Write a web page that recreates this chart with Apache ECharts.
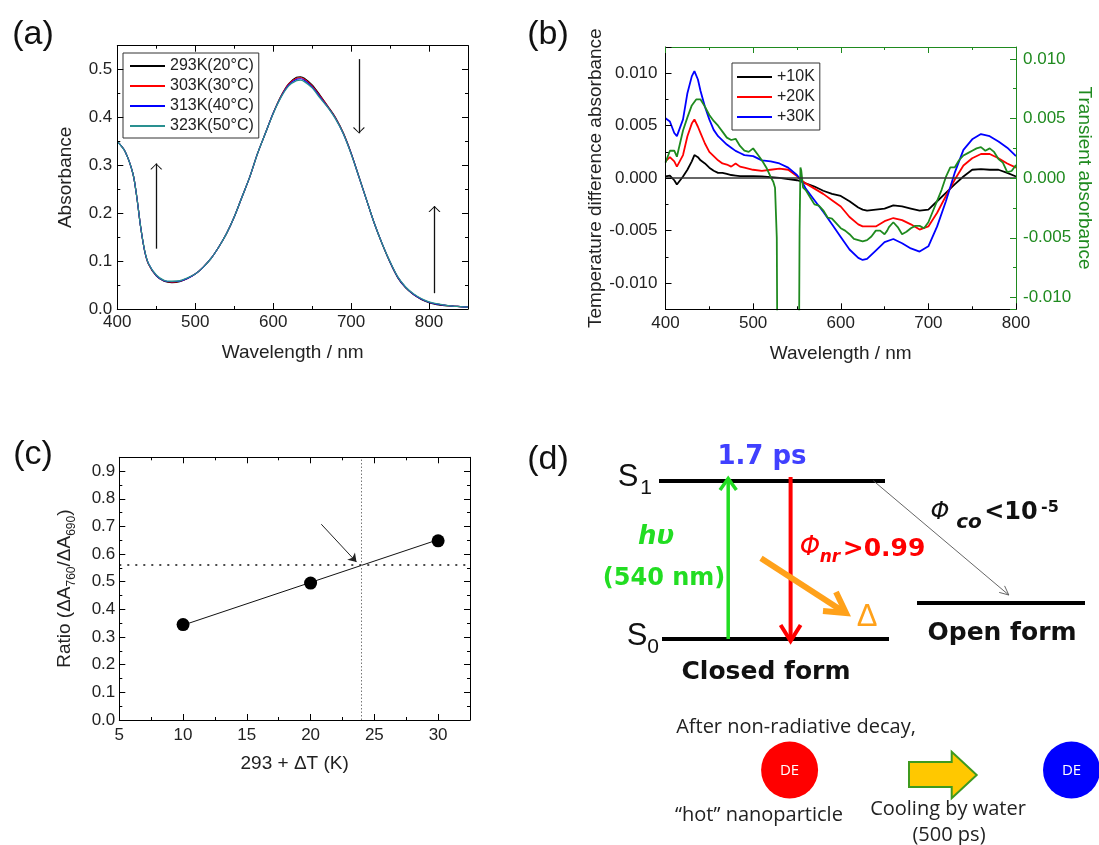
<!DOCTYPE html>
<html>
<head>
<meta charset="utf-8">
<script src="https://cdn.jsdelivr.net/npm/echarts@6/dist/echarts.min.js"></script>
<style>
  html, body { margin: 0; padding: 0; background: #fff; }
  #main { width: 1099px; height: 845px; }
</style>
</head>
<body>
<div id="main"></div>
<script>
// ---- (a) absorbance spectra at 4 temperatures
const wlA = [400,410,420,425,430,435,440,450,460,470,480,490,500,510,520,530,540,550,560,570,580,590,600,610,620,630,635,640,650,660,670,680,690,700,710,720,730,740,750,760,770,780,790,800,810,820,830,840,850];
const abs293 = [0.350,0.329,0.283,0.234,0.171,0.122,0.094,0.069,0.058,0.055,0.057,0.064,0.073,0.087,0.105,0.129,0.157,0.192,0.234,0.276,0.325,0.367,0.409,0.445,0.471,0.484,0.485,0.482,0.468,0.447,0.424,0.400,0.368,0.326,0.277,0.227,0.178,0.135,0.097,0.065,0.044,0.030,0.020,0.013,0.009,0.007,0.006,0.005,0.004];
const abs303 = [0.350,0.329,0.283,0.234,0.171,0.122,0.094,0.070,0.059,0.056,0.058,0.064,0.073,0.087,0.105,0.129,0.157,0.192,0.234,0.276,0.325,0.367,0.409,0.444,0.470,0.482,0.483,0.480,0.466,0.445,0.423,0.399,0.367,0.325,0.276,0.227,0.178,0.136,0.098,0.066,0.045,0.031,0.021,0.014,0.010,0.008,0.006,0.005,0.004];
const abs313 = [0.350,0.329,0.283,0.234,0.171,0.122,0.095,0.070,0.059,0.057,0.058,0.064,0.073,0.087,0.105,0.129,0.157,0.192,0.234,0.276,0.325,0.367,0.409,0.443,0.468,0.480,0.481,0.478,0.464,0.443,0.422,0.398,0.366,0.325,0.276,0.227,0.178,0.136,0.098,0.066,0.045,0.031,0.021,0.014,0.010,0.008,0.006,0.005,0.004];
const abs323 = [0.350,0.329,0.283,0.234,0.171,0.123,0.095,0.071,0.060,0.058,0.059,0.065,0.073,0.087,0.105,0.129,0.157,0.192,0.234,0.276,0.325,0.367,0.408,0.442,0.466,0.477,0.478,0.475,0.462,0.441,0.421,0.397,0.366,0.324,0.276,0.227,0.178,0.136,0.099,0.067,0.046,0.032,0.022,0.015,0.011,0.008,0.006,0.005,0.004];
const legendA = ['293K(20°C)', '303K(30°C)', '313K(40°C)', '323K(50°C)'];
// arrows in (a): [x, yFrom, yTo]
const arrowsA = [[450, 0.126, 0.304], [710, 0.522, 0.367], [807, 0.033, 0.215]];

// ---- (b) temperature difference spectra + transient absorption
const wlB = [400,405,410,413,420,425,430,433,437,440,445,450,455,460,465,470,475,480,485,490,500,510,520,530,540,550,555,560,570,580,590,600,610,620,625,630,640,650,660,670,680,690,700,710,720,730,740,750,760,770,780,790,800];
const dA10 = [0.00016,0.00025,-0.0002,-0.0006,0.00016,0.0008,0.0016,0.0022,0.002,0.0017,0.0014,0.001,0.0007,0.0005,0.0005,0.0004,0.0003,0.00025,0.0002,0.0002,0.0002,0.00016,0.0001,0.00003,-0.0001,-0.0002,-0.0003,-0.0005,-0.0008,-0.0012,-0.0015,-0.0017,-0.0022,-0.0028,-0.003,-0.0031,-0.003,-0.0029,-0.0026,-0.0027,-0.0029,-0.0031,-0.003,-0.0022,-0.0014,-0.0006,0.00016,0.0008,0.00086,0.0008,0.0008,0.0005,0.00016];
const dA20 = [0.0016,0.002,0.0016,0.0011,0.0022,0.004,0.0052,0.0056,0.0049,0.0043,0.0033,0.0025,0.0021,0.0017,0.0014,0.0013,0.0011,0.0014,0.0011,0.001,0.0008,0.0007,0.0008,0.0009,0.0008,0.0002,-0.0002,-0.0005,-0.001,-0.0015,-0.0021,-0.0027,-0.0037,-0.0044,-0.0046,-0.0046,-0.0046,-0.0041,-0.0038,-0.004,-0.0044,-0.0049,-0.0046,-0.0033,-0.0017,-0.00016,0.0012,0.0019,0.0023,0.0023,0.0019,0.0014,0.001];
const dA30 = [0.0057,0.0054,0.0043,0.004,0.0056,0.0081,0.0097,0.0102,0.0094,0.0083,0.0068,0.0056,0.0046,0.004,0.0036,0.0032,0.0029,0.0026,0.0024,0.0022,0.0021,0.0017,0.0016,0.0014,0.001,0.0003,-0.0002,-0.001,-0.0021,-0.0032,-0.0044,-0.0056,-0.0068,-0.0076,-0.0078,-0.0077,-0.0069,-0.0061,-0.0058,-0.0062,-0.0067,-0.007,-0.0065,-0.0046,-0.0022,0.0005,0.0027,0.0037,0.0042,0.004,0.0035,0.0029,0.0021];
const wlTA = [400,405,410,413,420,425,430,435,440,445,450,455,460,465,470,475,480,485,490,495,500,505,510,515,520,523,525,527,528,552,553,554,555,557,560,565,570,575,580,585,590,595,600,605,610,615,620,625,630,635,640,645,650,653,655,660,665,670,675,680,685,690,695,700,705,710,715,720,725,730,735,740,745,750,755,760,765,770,775,780,785,790,795,800];
const transA = [0.0013,0.0023,0.0023,0.0018,0.004,0.0051,0.0061,0.0066,0.0066,0.006,0.0053,0.0048,0.0044,0.0039,0.0034,0.0032,0.0033,0.0027,0.0023,0.0022,0.0025,0.002,0.0015,0.0009,0.0001,-0.0003,-0.0008,-0.005,-0.02,-0.02,-0.0044,0.0009,0.0006,-0.0008,-0.001,-0.0016,-0.0022,-0.0023,-0.0027,-0.0033,-0.0034,-0.0038,-0.0042,-0.0044,-0.0047,-0.0051,-0.0052,-0.0053,-0.0052,-0.0049,-0.0044,-0.0044,-0.0047,-0.0044,-0.0041,-0.0037,-0.0041,-0.0047,-0.0045,-0.0042,-0.004,-0.004,-0.0042,-0.0037,-0.0028,-0.0019,-0.001,0.0001,0.0009,0.0009,0.0015,0.0019,0.0021,0.0023,0.0025,0.0026,0.0023,0.0025,0.0022,0.0016,0.0013,0.0005,0.0006,0.0011];
const legendB = ['+10K', '+20K', '+30K'];

// ---- (c) ratio vs temperature rise
const dT = [10, 20, 30];
const ratio = [0.345, 0.495, 0.648];
const fitX = [10, 30];
const fitY = [0.343, 0.652];
const refRatio = 0.565;
const refDT = 24;
const arrowC = [[20.84, 0.708], [23.6, 0.571]];

const FONT = '"Liberation Sans", Arial, sans-serif';
const GREEN = '#1f8a1f';
const zip = (xs, ys) => xs.map((x, i) => [x, ys[i]]);
const near = (v, step) => Math.abs(v / step - Math.round(v / step)) < 1e-6;

// open "V" arrow head, tip at the centre of the symbol box
const chevron = 'path://M0,10 L6,0 L12,10 L10.8,10.6 L6,2 L1.2,10.6 Z M6,-10.6 L6.05,-10.6 L6,-10.55 Z';
const lineIcon = 'path://M0,0 L35,0 L35,2 L0,2 Z';

function mkAxis(o) {
  const c = o.color || '#000';
  return {
    type: 'value',
    gridIndex: o.grid,
    position: o.pos,
    min: o.min, max: o.max,
    interval: o.interval,
    splitNumber: o.split,
    name: o.name || '',
    nameLocation: 'middle',
    nameGap: o.nameGap || 30,
    nameRotate: o.nameRotate,
    nameTextStyle: Object.assign({ color: o.labelColor || '#222', fontSize: 19, fontFamily: FONT }, o.nameStyle || {}),
    axisLine: { show: true, onZero: false, lineStyle: { color: c, width: 1 } },
    axisTick: { show: true, inside: true, length: 6, lineStyle: { color: c, width: 1 } },
    minorTick: { show: true, splitNumber: 2, length: 3, lineStyle: { color: c, width: 1 } },
    splitLine: { show: false },
    axisLabel: { show: !!o.fmt, color: o.labelColor || '#222', fontSize: o.fs || 17, fontFamily: FONT, margin: o.margin || 6, formatter: o.fmt },
    z: 5
  };
}

const fmtAx = v => (near(v, 100) ? String(v) : '');
const fmtAy = v => (near(v, 0.1) && v < 0.501 ? v.toFixed(1) : '');
const fmtBy = v => (near(v, 0.005) ? v.toFixed(3) : '');
const fmtCx = v => (near(v, 5) && v < 30.01 ? String(v) : '');
const fmtCy = v => (near(v, 0.1) && v < 0.901 ? v.toFixed(1) : '');

const xAxes = [
  mkAxis({ grid: 0, pos: 'bottom', min: 400, max: 850, interval: 100, fmt: fmtAx, name: 'Wavelength / nm', nameGap: 34, margin: 5 }),
  mkAxis({ grid: 0, pos: 'top', min: 400, max: 850, interval: 100 }),
  mkAxis({ grid: 1, pos: 'bottom', min: 400, max: 800, interval: 100, fmt: fmtAx, name: 'Wavelength / nm', nameGap: 35, margin: 6 }),
  mkAxis({ grid: 1, pos: 'top', min: 400, max: 800, interval: 100, color: GREEN }),
  mkAxis({ grid: 2, pos: 'bottom', min: 5, max: 32.5, interval: 5, fmt: fmtCx, name: '293 + ΔT (K)', nameGap: 34, margin: 7 }),
  mkAxis({ grid: 2, pos: 'top', min: 5, max: 32.5, interval: 5 })
];
const yAxes = [
  mkAxis({ grid: 0, pos: 'left', min: 0, max: 0.55, interval: 0.1, fmt: fmtAy, name: 'Absorbance', nameGap: 42, margin: 5 }),
  mkAxis({ grid: 0, pos: 'right', min: 0, max: 0.55, interval: 0.1 }),
  mkAxis({ grid: 1, pos: 'left', min: -0.0125, max: 0.0125, split: 5, fmt: fmtBy, name: 'Temperature difference absorbance', nameGap: 60, margin: 8 }),
  mkAxis({ grid: 1, pos: 'right', min: -0.011, max: 0.011, split: 4, fmt: fmtBy, name: 'Transient absorbance', nameGap: 58, nameRotate: -90, margin: 7, color: GREEN, labelColor: GREEN }),
  mkAxis({ grid: 2, pos: 'left', min: 0, max: 0.95, interval: 0.1, fmt: fmtCy, name: 'Ratio (ΔA{s|760}/ΔA{s|690})', nameGap: 42, margin: 4,
           nameStyle: { lineHeight: 26, rich: { s: { fontSize: 12, lineHeight: 12, verticalAlign: 'bottom', color: '#222', fontFamily: FONT } } } }),
  mkAxis({ grid: 2, pos: 'right', min: 0, max: 0.95, interval: 0.1 })
];

function lineSeries(name, xi, yi, data, color, width, extra) {
  return Object.assign({
    name, type: 'line', xAxisIndex: xi, yAxisIndex: yi, data,
    symbol: 'none', showSymbol: false, clip: true,
    lineStyle: { color, width }, itemStyle: { color }
  }, extra || {});
}

const series = [
  lineSeries(legendA[0], 0, 0, zip(wlA, abs293), '#000000', 1.2, { smooth: 0.3 }),
  lineSeries(legendA[1], 0, 0, zip(wlA, abs303), '#ff0000', 1.2, { smooth: 0.3 }),
  lineSeries(legendA[2], 0, 0, zip(wlA, abs313), '#0000ff', 1.2, { smooth: 0.3 }),
  lineSeries(legendA[3], 0, 0, zip(wlA, abs323), '#2a9090', 1.3, {
    smooth: 0.3,
    markLine: {
      silent: true, animation: false, symbol: ['none', chevron], symbolSize: 12,
      label: { show: false },
      lineStyle: { color: '#111', width: 1.3, type: 'solid' },
      data: arrowsA.map(a => [{ coord: [a[0], a[1]] }, { coord: [a[0], a[2]] }])
    }
  }),
  lineSeries(legendB[0], 2, 2, zip(wlB, dA10), '#000000', 1.8, {
    markLine: {
      silent: true, animation: false, symbol: 'none', label: { show: false },
      lineStyle: { color: '#333', width: 1.5, type: 'solid' },
      data: [{ yAxis: 0 }]
    }
  }),
  lineSeries(legendB[1], 2, 2, zip(wlB, dA20), '#ff0000', 1.8),
  lineSeries(legendB[2], 2, 2, zip(wlB, dA30), '#0000ff', 1.8),
  lineSeries('Transient', 2, 3, zip(wlTA, transA), GREEN, 1.8),
  lineSeries('fit', 4, 4, zip(fitX, fitY), '#111', 1, {
    markLine: {
      silent: true, animation: false, symbol: 'none', label: { show: false },
      data: [
        { yAxis: refRatio, lineStyle: { color: '#111', width: 1.6, type: [2, 6] } },
        { xAxis: refDT, lineStyle: { color: '#777', width: 1, type: [1.5, 2] } },
        [{ coord: arrowC[0], symbol: 'none' },
         { coord: arrowC[1], symbol: 'arrow', symbolSize: 8, lineStyle: { color: '#222', width: 1, type: 'solid' } }]
      ]
    }
  }),
  { name: 'ratio', type: 'scatter', xAxisIndex: 4, yAxisIndex: 4, data: zip(dT, ratio),
    symbol: 'circle', symbolSize: 13, itemStyle: { color: '#000', opacity: 1 }, z: 4 }
];

// ---- (d) energy diagram (pure drawing)
const DV = '"DejaVu Sans", Verdana, sans-serif';
const OS = '"Open Sans", "Noto Sans", sans-serif';
function txt(x, y, text, font, fill, align) {
  return { type: 'text', z: 10, style: { x, y, text, font, fill, align: align || 'center', verticalAlign: 'middle' } };
}
function seg(x1, y1, x2, y2, stroke, lineWidth) {
  return { type: 'line', z: 10, shape: { x1, y1, x2, y2 }, style: { stroke, lineWidth, lineCap: 'butt' } };
}
function head(points, stroke, lineWidth) {
  return { type: 'polyline', z: 10, shape: { points }, style: { stroke, lineWidth, fill: null, lineJoin: 'miter', lineCap: 'butt' } };
}

const graphic = [
  txt(33, 35, '(a)', '34px ' + FONT, '#111'),
  txt(548, 35, '(b)', '34px ' + FONT, '#111'),
  txt(33, 455, '(c)', '34px ' + FONT, '#111'),
  txt(548, 460, '(d)', '34px ' + FONT, '#111'),

  seg(659, 481, 885, 481, '#000', 4),
  seg(662, 639, 889, 639, '#000', 4),
  seg(917, 603, 1085, 603, '#000', 4),
  txt(628, 477, 'S', '31px ' + FONT, '#111'),
  txt(646, 488, '1', '21px ' + FONT, '#111'),
  txt(637, 636, 'S', '31px ' + FONT, '#111'),
  txt(653, 647, '0', '21px ' + FONT, '#111'),

  txt(762, 457, '1.7 ps', 'bold 26px ' + DV, '#4040ff'),

  seg(728.2, 639, 728.2, 480, '#22dd22', 3.5),
  head([[720, 490], [728.2, 478.5], [736.4, 490]], '#22dd22', 3.5),
  txt(656, 537, 'hυ', 'italic bold 26px ' + DV, '#22dd22'),
  txt(664, 579, '(540 nm)', 'bold 24px ' + DV, '#22dd22'),

  seg(790.6, 477, 790.6, 640, '#ff0000', 4),
  head([[780.6, 625], [790.6, 641], [800.6, 625]], '#ff0000', 4),
  txt(810, 548, 'Φ', 'italic 26px ' + DV, '#ff0000'),
  txt(830, 558, 'nr', 'italic bold 17px ' + DV, '#ff0000'),
  txt(884, 549, '>0.99', 'bold 25px ' + DV, '#ff0000'),

  seg(761, 558.3, 844, 612, '#ffa11a', 6),
  head([[823, 611], [846, 613], [836, 592]], '#ffa11a', 6),
  txt(867, 617, 'Δ', '31px ' + FONT, '#ffa11a'),

  seg(873.3, 480.7, 1008.8, 595, '#555', 0.9),
  head([[999.2, 592.4], [1008.8, 595], [1004.6, 585.9]], '#555', 0.9),
  txt(940, 513, 'Φ', 'italic 24px ' + DV, '#111'),
  txt(969, 523, 'co', 'italic bold 20px ' + DV, '#111'),
  txt(1011, 513, '<10', 'bold 24px ' + DV, '#111'),
  txt(1050, 508, '-5', 'bold 16px ' + DV, '#111'),

  txt(1002, 633, 'Open form', 'bold 25px ' + DV, '#111'),
  txt(766, 672, 'Closed form', 'bold 25px ' + DV, '#111'),

  txt(796, 727, 'After non-radiative decay,', '20px ' + OS, '#222'),
  { type: 'circle', z: 10, shape: { cx: 789.6, cy: 770, r: 28.5 }, style: { fill: '#ff0000' } },
  txt(789.6, 771, 'DE', '15px ' + OS, '#fff'),
  txt(759, 815, '“hot” nanoparticle', '20px ' + OS, '#222'),
  { type: 'polygon', z: 10,
    shape: { points: [[909, 762], [951.7, 762], [951.7, 751.7], [976.7, 775], [951.7, 798.3], [951.7, 787], [909, 787]] },
    style: { fill: '#ffc800', stroke: '#3f9a1e', lineWidth: 2 } },
  txt(948, 809, 'Cooling by water', '20px ' + OS, '#222'),
  txt(949, 835, '(500 ps)', '20px ' + OS, '#222'),
  { type: 'circle', z: 10, shape: { cx: 1071.5, cy: 770, r: 28.5 }, style: { fill: '#0000ff' } },
  txt(1071.5, 771, 'DE', '15px ' + OS, '#fff')
];

const legendCommon = {
  orient: 'vertical', icon: lineIcon, itemWidth: 35, itemHeight: 2, itemGap: 4,
  backgroundColor: '#fff', borderColor: '#333', borderWidth: 1, borderRadius: 0,
  textStyle: { color: '#222', fontSize: 16, fontFamily: FONT, lineHeight: 16 },
  selectedMode: false
};

const chart = echarts.init(document.getElementById('main'), null, { renderer: 'canvas' });
chart.setOption({
  animation: false,
  backgroundColor: '#fff',
  grid: [
    { left: 117.3, top: 45.7, width: 350.7, height: 263.3 },
    { left: 665.5, top: 47, width: 350.5, height: 262.3 },
    { left: 119.3, top: 457.3, width: 350.7, height: 262.7 }
  ],
  xAxis: xAxes,
  yAxis: yAxes,
  legend: [
    Object.assign({}, legendCommon, { data: legendA, left: 123, top: 53, padding: [5, 5, 4, 7] }),
    Object.assign({}, legendCommon, { data: legendB, left: 732, top: 63, padding: [6, 5, 5, 5] })
  ],
  series,
  graphic
});
</script>
</body>
</html>
